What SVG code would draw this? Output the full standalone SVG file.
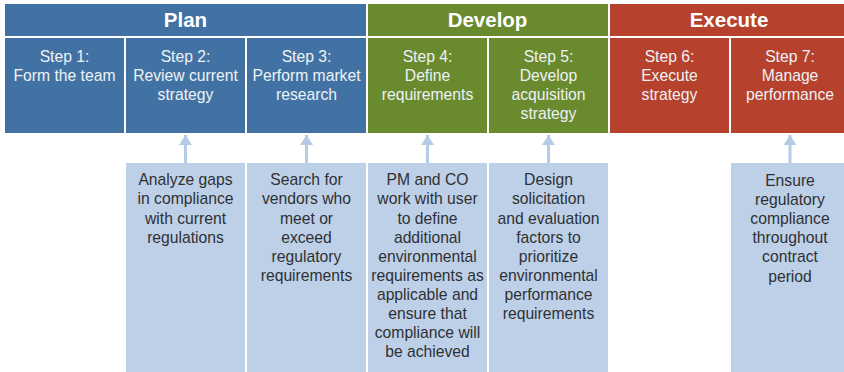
<svg xmlns="http://www.w3.org/2000/svg" width="844" height="372" viewBox="0 0 844 372">
<defs>
<style>
.plan{fill:#4172a3}
.dev{fill:#6a8a2e}
.exe{fill:#b6412c}
.note{fill:#bdd0e8}
.hdr{font-family:"Liberation Sans",Arial,sans-serif;font-weight:bold;font-size:20.5px;fill:#ffffff;text-anchor:middle}
.stp{font-family:"Liberation Sans",Arial,sans-serif;font-size:15.7px;fill:#eef2f6;text-anchor:middle}
.nt{font-family:"Liberation Sans",Arial,sans-serif;font-size:15.7px;fill:#2f3033;text-anchor:middle}
.conn{stroke:#b5cbe6;stroke-width:3;fill:none}
</style>
<marker id="ah" viewBox="0 0 10 13" refX="10" refY="6.5" markerWidth="10" markerHeight="13" markerUnits="userSpaceOnUse" orient="auto">
<path d="M0,0 L10,6.5 L0,13 z" fill="#b5cbe6"/>
</marker>
</defs>
<rect width="844" height="372" fill="#ffffff"/>

<g id="phase-plan"><rect class="plan" x="5" y="4" width="361" height="32"/><text class="hdr" x="185.5" y="27">Plan</text></g>
<g id="phase-develop"><rect class="dev" x="368" y="4" width="240" height="32"/><text class="hdr" x="487.5" y="27">Develop</text></g>
<g id="phase-execute"><rect class="exe" x="610" y="4" width="240" height="32"/><text class="hdr" x="729" y="27">Execute</text></g>

<g id="step1"><rect class="plan" x="5" y="38" width="119" height="95"/><text class="stp" x="64.5" y="61.7"><tspan x="64.5">Step 1:</tspan><tspan x="64.5" dy="19.2">Form the team</tspan></text></g>
<g id="step2"><rect class="plan" x="126" y="38" width="119" height="95"/><text class="stp" x="185.5" y="61.7"><tspan x="185.5">Step 2:</tspan><tspan x="185.5" dy="19.2">Review current</tspan><tspan x="185.5" dy="19.2">strategy</tspan></text></g>
<g id="step3"><rect class="plan" x="247" y="38" width="119" height="95"/><text class="stp" x="306.5" y="61.7"><tspan x="306.5">Step 3:</tspan><tspan x="306.5" dy="19.2">Perform market</tspan><tspan x="306.5" dy="19.2">research</tspan></text></g>
<g id="step4"><rect class="dev" x="368" y="38" width="119" height="95"/><text class="stp" x="427.5" y="61.7"><tspan x="427.5">Step 4:</tspan><tspan x="427.5" dy="19.2">Define</tspan><tspan x="427.5" dy="19.2">requirements</tspan></text></g>
<g id="step5"><rect class="dev" x="489" y="38" width="119" height="95"/><text class="stp" x="548.5" y="61.7"><tspan x="548.5">Step 5:</tspan><tspan x="548.5" dy="19.2">Develop</tspan><tspan x="548.5" dy="19.2">acquisition</tspan><tspan x="548.5" dy="19.2">strategy</tspan></text></g>
<g id="step6"><rect class="exe" x="610" y="38" width="119" height="95"/><text class="stp" x="669.5" y="61.7"><tspan x="669.5">Step 6:</tspan><tspan x="669.5" dy="19.2">Execute</tspan><tspan x="669.5" dy="19.2">strategy</tspan></text></g>
<g id="step7"><rect class="exe" x="731" y="38" width="119" height="95"/><text class="stp" x="790" y="61.7"><tspan x="790">Step 7:</tspan><tspan x="790" dy="19.2">Manage</tspan><tspan x="790" dy="19.2">performance</tspan></text></g>

<g id="note2"><rect class="note" x="126" y="163" width="119" height="209"/><text class="nt" x="185.5" y="185.3"><tspan x="185.5">Analyze gaps</tspan><tspan x="185.5" dy="19.1">in compliance</tspan><tspan x="185.5" dy="19.1">with current</tspan><tspan x="185.5" dy="19.1">regulations</tspan></text></g>
<g id="note3"><rect class="note" x="247" y="163" width="119" height="209"/><text class="nt" x="306.5" y="185.3"><tspan x="306.5">Search for</tspan><tspan x="306.5" dy="19.1">vendors who</tspan><tspan x="306.5" dy="19.1">meet or</tspan><tspan x="306.5" dy="19.1">exceed</tspan><tspan x="306.5" dy="19.1">regulatory</tspan><tspan x="306.5" dy="19.1">requirements</tspan></text></g>
<g id="note4"><rect class="note" x="368" y="163" width="119" height="209"/><text class="nt" x="427.5" y="185.3"><tspan x="427.5">PM and CO</tspan><tspan x="427.5" dy="19.1">work with user</tspan><tspan x="427.5" dy="19.1">to define</tspan><tspan x="427.5" dy="19.1">additional</tspan><tspan x="427.5" dy="19.1">environmental</tspan><tspan x="427.5" dy="19.1">requirements as</tspan><tspan x="427.5" dy="19.1">applicable and</tspan><tspan x="427.5" dy="19.1">ensure that</tspan><tspan x="427.5" dy="19.1">compliance will</tspan><tspan x="427.5" dy="19.1">be achieved</tspan></text></g>
<g id="note5"><rect class="note" x="489" y="163" width="119" height="209"/><text class="nt" x="548.5" y="185.3"><tspan x="548.5">Design</tspan><tspan x="548.5" dy="19.1">solicitation</tspan><tspan x="548.5" dy="19.1">and evaluation</tspan><tspan x="548.5" dy="19.1">factors to</tspan><tspan x="548.5" dy="19.1">prioritize</tspan><tspan x="548.5" dy="19.1">environmental</tspan><tspan x="548.5" dy="19.1">performance</tspan><tspan x="548.5" dy="19.1">requirements</tspan></text></g>
<g id="note7"><rect class="note" x="731" y="163" width="119" height="209"/><text class="nt" x="790" y="186"><tspan x="790">Ensure</tspan><tspan x="790" dy="19.1">regulatory</tspan><tspan x="790" dy="19.1">compliance</tspan><tspan x="790" dy="19.1">throughout</tspan><tspan x="790" dy="19.1">contract</tspan><tspan x="790" dy="19.1">period</tspan></text></g>

<g id="connectors">
<line class="conn" x1="185.5" y1="163" x2="185.5" y2="135" marker-end="url(#ah)"/>
<line class="conn" x1="306.5" y1="163" x2="306.5" y2="135" marker-end="url(#ah)"/>
<line class="conn" x1="427.5" y1="163" x2="427.5" y2="135" marker-end="url(#ah)"/>
<line class="conn" x1="548.5" y1="163" x2="548.5" y2="135" marker-end="url(#ah)"/>
<line class="conn" x1="790" y1="163" x2="790" y2="135" marker-end="url(#ah)"/>
</g>
</svg>
